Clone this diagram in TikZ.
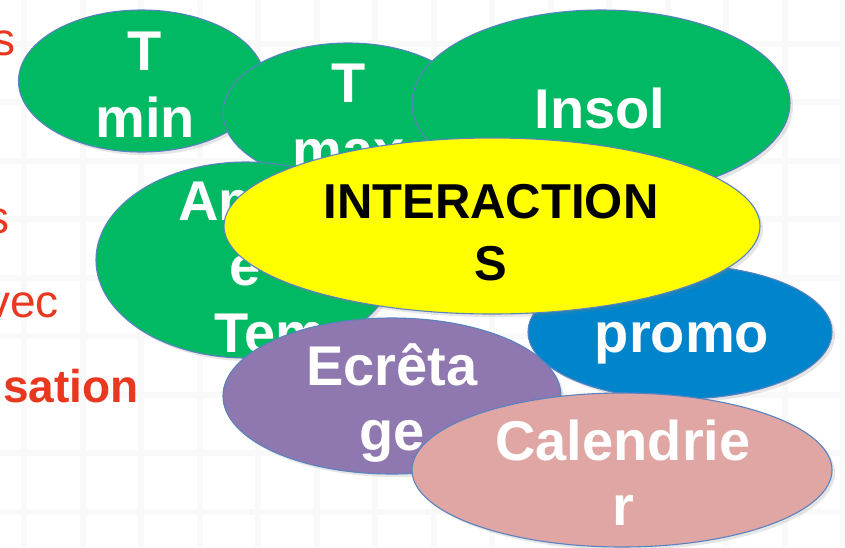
\documentclass[tikz,border=0pt]{standalone}
\usepackage{fontspec}
\setmainfont{Liberation Sans}
\usetikzlibrary{shapes.geometric,shadows}
\definecolor{gfill}{HTML}{00B962}
\definecolor{yfill}{HTML}{FFFF00}
\definecolor{bfill}{HTML}{0084CB}
\definecolor{pfill}{HTML}{8F78AF}
\definecolor{rfill}{HTML}{E0A6A4}
\definecolor{edge}{HTML}{5A82C0}
\definecolor{redtxt}{HTML}{E8381F}
\definecolor{gridc}{HTML}{F9F9F9}
\tikzset{
  blob/.style={ellipse, draw=edge, line width=1.1pt, inner sep=0pt,
    drop shadow={opacity=0.2, shadow xshift=3pt, shadow yshift=-3pt}},
  lbl/.style={anchor=base, text=white, inner sep=0pt,
    font=\bfseries\fontsize{56}{67}\selectfont},
  blk/.style={anchor=base, text=black, inner sep=0pt,
    font=\bfseries\fontsize{49}{60}\selectfont},
  redreg/.style={anchor=base east, text=redtxt, inner sep=0pt,
    font=\fontsize{46}{55}\selectfont},
  redbold/.style={anchor=base east, text=redtxt, inner sep=0pt,
    font=\bfseries\fontsize{46}{55}\selectfont},
  gridline/.style={draw=gridc, line width=6pt}
}
\begin{document}
\begin{tikzpicture}[x=1pt,y=-1pt]
\useasboundingbox (0,0) rectangle (845,547);
\fill[white] (0,0) rectangle (845,547);
% faint background grid
\foreach \gx in {24,82.5,141,199.5,258,316.5,375,433.5,492,550.5,609,667.5,726,784.5,843}
  \draw[gridline] (\gx,0) -- (\gx,547);
\foreach \gy in {43.5,102,160.5,219,277.5,336,394.5,453,511.5}
  \draw[gridline] (0,\gy) -- (845,\gy);

% red text at left edge
\node[redreg] (r1) at (16,55) {s};
\node[redreg] (r2) at (10,233) {s};
\node[redreg] (r3) at (59,317) {vec};
\node[redbold] (r4) at (139,402) {sation};

% T min
\node[blob, fill=gfill, minimum width=246pt, minimum height=142pt] (tmin) at (141.5,81) {};
\node[lbl] (tmin1) at (145,70) {T};
\node[lbl] (tmin2) at (145,137) {min};

% T max
\node[blob, fill=gfill, minimum width=250pt, minimum height=140pt] (tmax) at (348,113) {};
\node[lbl] (tmax1) at (349,102) {T};
\node[lbl] (tmax2) at (349,169) {max};

% Insol
\node[blob, fill=gfill, minimum width=378pt, minimum height=186pt] (insol) at (601,103) {};
\node[lbl] (insol1) at (600,128) {Insol};

% Amplitude
\node[blob, fill=gfill, minimum width=300pt, minimum height=196pt] (ampl) at (246,260) {};
\node[lbl, anchor=base west] (ampl1) at (178,220) {Am};
\node[lbl] (ampl2) at (245,285) {e};
\node[lbl, anchor=base west] (ampl3) at (214,352) {Tem};

% promo
\node[blob, fill=bfill, minimum width=304pt, minimum height=134pt] (promo) at (680,332) {};
\node[lbl] (promo1) at (682,352) {promo};

% INTERACTIONS
\node[blob, fill=yfill, minimum width=536pt, minimum height=176pt] (inter) at (492,226) {};
\node[blk] (inter1) at (491,218) {INTERACTION};
\node[blk] (inter2) at (491,280) {S};

% Ecretage
\node[blob, fill=pfill, minimum width=338pt, minimum height=156pt] (ecr) at (392,396) {};
\node[lbl] (ecr1) at (392,385) {Ecrêta};
\node[lbl] (ecr2) at (392,450) {ge};

% Calendrier
\node[blob, fill=rfill, minimum width=420pt, minimum height=154pt] (cal) at (622,470) {};
\node[lbl] (cal1) at (623,460) {Calendrie};
\node[lbl] (cal2) at (623,525) {r};
\end{tikzpicture}
\end{document}
